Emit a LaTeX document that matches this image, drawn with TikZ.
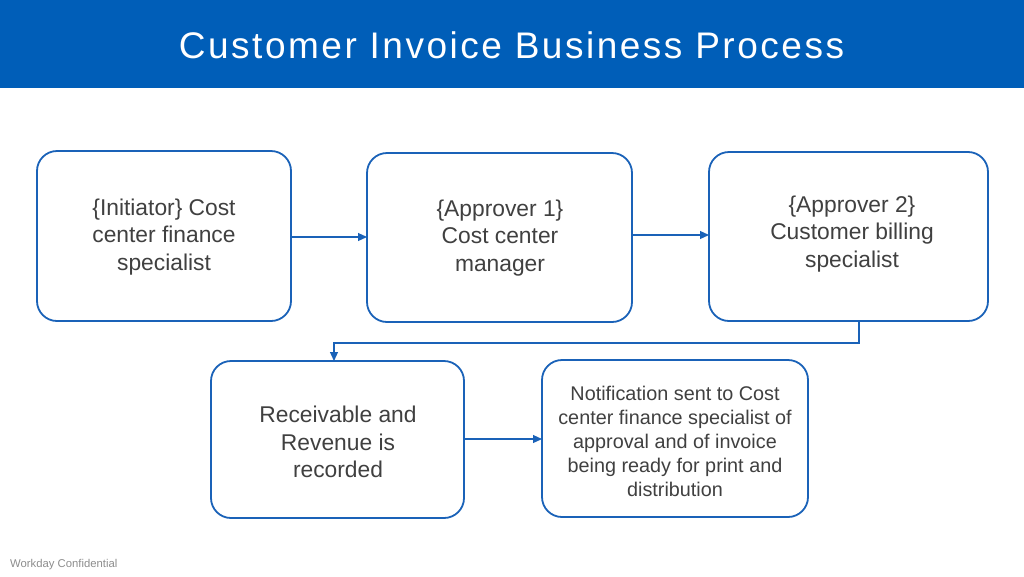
\documentclass[tikz,border=0pt]{standalone}
\usepackage{fontspec}
\setmainfont{Liberation Sans}
\usetikzlibrary{arrows.meta}
\definecolor{hdr}{HTML}{005EB8}
\definecolor{bx}{HTML}{1A62B8}
\definecolor{txt}{HTML}{404040}
\begin{document}
\begin{tikzpicture}[x=1pt,y=-1pt,
  procbox/.style={draw=bx, line width=1.8pt, rounded corners=20pt, fill=white},
  boxtext/.style={text=txt, align=center, font=\fontsize{22.8}{27.5}\selectfont},
  conn/.style={draw=bx, line width=1.2pt, -{Triangle[length=9pt,width=8pt]}}]
\useasboundingbox (0,0) rectangle (1024,576);
\fill[hdr] (0,0) rectangle (1024,88);
\node[text=white, font=\fontsize{37}{40}\selectfont\addfontfeature{LetterSpace=6.8}] (title) at (511.5,45) {Customer Invoice Business Process};
% boxes
\draw[procbox] (37,151) rectangle (291,321);
\node[boxtext] (b1) at (164,237) {\{Initiator\} Cost\\center finance\\specialist};
\coordinate (b1e) at (291,237);
\draw[procbox] (367,153) rectangle (632,322);
\node[boxtext] (b2) at (500,238) {\{Approver 1\}\\Cost center\\manager};
\coordinate (b2w) at (367,237);
\coordinate (b2e) at (632,235);
\draw[procbox] (709,152) rectangle (988,321);
\node[boxtext] (b3) at (852,234) {\{Approver 2\}\\Customer billing\\specialist};
\coordinate (b3w) at (709,235);
\coordinate (b3s) at (859,321);
\draw[procbox] (211,361) rectangle (464,518);
\node[boxtext] (b4) at (338,442) {Receivable and\\Revenue is\\recorded};
\coordinate (b4n) at (334,361);
\coordinate (b4e) at (464,439);
\draw[procbox] (542,360) rectangle (808,517);
\node[text=txt, align=center, font=\fontsize{19.8}{24}\selectfont] (b5) at (675,441) {Notification sent to Cost\\center finance specialist of\\approval and of invoice\\being ready for print and\\distribution};
\coordinate (b5w) at (542,439);
% connectors
\draw[conn] (b1e) -- (b2w);
\draw[conn] (b2e) -- (b3w);
\draw[conn] (b3s) -- (859,343) -- (334,343) -- (b4n);
\draw[conn] (b4e) -- (b5w);
\node[anchor=west, inner sep=0pt, text=black!45, font=\fontsize{11.3}{13}\selectfont] (foot) at (10,565) {Workday Confidential};
\end{tikzpicture}
\end{document}
